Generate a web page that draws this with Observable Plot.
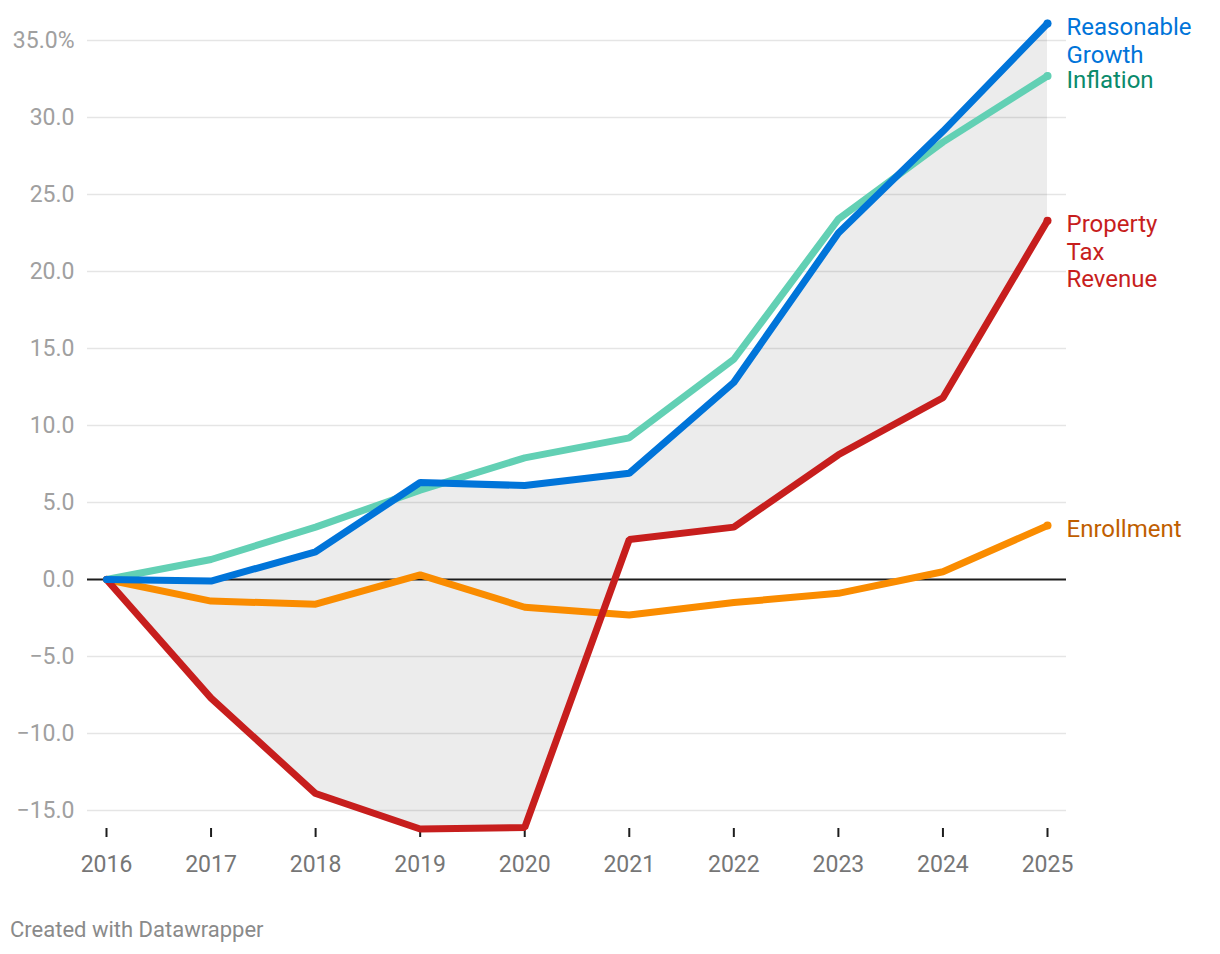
<!DOCTYPE html>
<html>
<head>
<meta charset="utf-8">
<script src="https://cdn.jsdelivr.net/npm/d3@7"></script>
<script src="https://cdn.jsdelivr.net/npm/@observablehq/plot@0.6"></script>
<style>
  html, body { margin: 0; padding: 0; background: #ffffff; }
  body { font-family: Roboto, "Noto Sans", sans-serif; width: 1220px; height: 954px; position: relative; overflow: hidden; }
  #chart { position: absolute; left: 0; top: 0; }
  #caption { position: absolute; left: 10px; top: 917px; font-size: 22px; color: #8a8a8a; font-family: Roboto, sans-serif; }
</style>
</head>
<body>
<div id="chart"></div>
<div id="caption">Created with Datawrapper</div>
<script>
// ---- Data (percent change since 2016) ----
const years = [2016, 2017, 2018, 2019, 2020, 2021, 2022, 2023, 2024, 2025];
const reasonableGrowth = [0, -0.1, 1.8, 6.3, 6.1, 6.9, 12.8, 22.5, 29.1, 36.1];
const inflation        = [0, 1.3, 3.4, 5.8, 7.9, 9.2, 14.3, 23.4, 28.4, 32.7];
const propertyTax      = [0, -7.7, -13.9, -16.2, -16.1, 2.6, 3.4, 8.1, 11.8, 23.3];
const enrollment       = [0, -1.4, -1.6, 0.3, -1.8, -2.3, -1.5, -0.9, 0.5, 3.5];

const seriesNames = ["Enrollment", "Inflation", "Property Tax Revenue", "Reasonable Growth"];
const seriesLabels = ["Enrollment", "Inflation", "Property\nTax\nRevenue", "Reasonable\nGrowth"];
const yTicks = [-15, -10, -5, 0, 5, 10, 15, 20, 25, 30, 35];

// ---- Styles ----
const lineColors  = {"Enrollment": "#fa8c00", "Inflation": "#62d0b4", "Property Tax Revenue": "#c71e1d", "Reasonable Growth": "#0074d9"};
const labelColors = {"Enrollment": "#c05e00", "Inflation": "#0a8a6b", "Property Tax Revenue": "#c71e1d", "Reasonable Growth": "#0074d9"};

const valuesBySeries = {
  "Enrollment": enrollment,
  "Inflation": inflation,
  "Property Tax Revenue": propertyTax,
  "Reasonable Growth": reasonableGrowth
};

const longRows = seriesNames.flatMap(s => years.map((yr, i) => ({series: s, year: yr, value: valuesBySeries[s][i]})));
const bandRows = years.map((yr, i) => ({year: yr, low: propertyTax[i], high: reasonableGrowth[i]}));
const lastRows = seriesNames.map((s, k) => ({series: s, label: seriesLabels[k], year: years[years.length - 1], value: valuesBySeries[s][years.length - 1]}));

const fmt = d => (d === 35 ? d3.format(".1f")(d) + "%" : d3.format(".1f")(d));

const plot = Plot.plot({
  width: 1220,
  height: 890,
  marginLeft: 87,
  marginRight: 154,
  marginTop: 40,
  marginBottom: 62,
  style: {fontFamily: "Roboto, sans-serif", background: "transparent", overflow: "visible"},
  x: {domain: [2016, 2025], insetLeft: 19, insetRight: 19, label: null},
  y: {domain: [-15, 35], insetBottom: 18, label: null},
  marks: [
    Plot.areaY(bandRows, {x: "year", y1: "low", y2: "high", fill: "#ececec"}),
    Plot.ruleY(yTicks.filter(d => d !== 0), {stroke: "#000", strokeOpacity: 0.1, strokeWidth: 1.5}),
    Plot.ruleY([0], {stroke: "#1d1d1d", strokeWidth: 2}),
    Plot.axisY({ticks: yTicks, tickFormat: fmt, tickSize: 0, tickPadding: 13, fontSize: 23, fill: "#a0a0a0", label: null}),
    Plot.axisX({ticks: years, tickFormat: d => String(d), tickSize: 9, tickPadding: 18, fontSize: 23, fill: "#767676", stroke: "#1d1d1d", strokeWidth: 2, label: null}),
    ...seriesNames.map(s => Plot.line(longRows.filter(d => d.series === s), {
      x: "year", y: "value", stroke: lineColors[s], strokeWidth: 7, strokeLinejoin: "miter", strokeLinecap: "round"
    })),
    ...seriesNames.map(s => Plot.dot(lastRows.filter(d => d.series === s), {
      x: "year", y: "value", r: 4, fill: lineColors[s]
    })),
    ...seriesNames.map(s => Plot.text(lastRows.filter(d => d.series === s), {
      x: "year", y: "value", text: "label", fill: labelColors[s], textAnchor: "start",
      lineAnchor: "top", lineHeight: 1.15, dx: 19, dy: -8, fontSize: 24
    }))
  ]
});

document.getElementById("chart").appendChild(plot);
</script>
</body>
</html>
